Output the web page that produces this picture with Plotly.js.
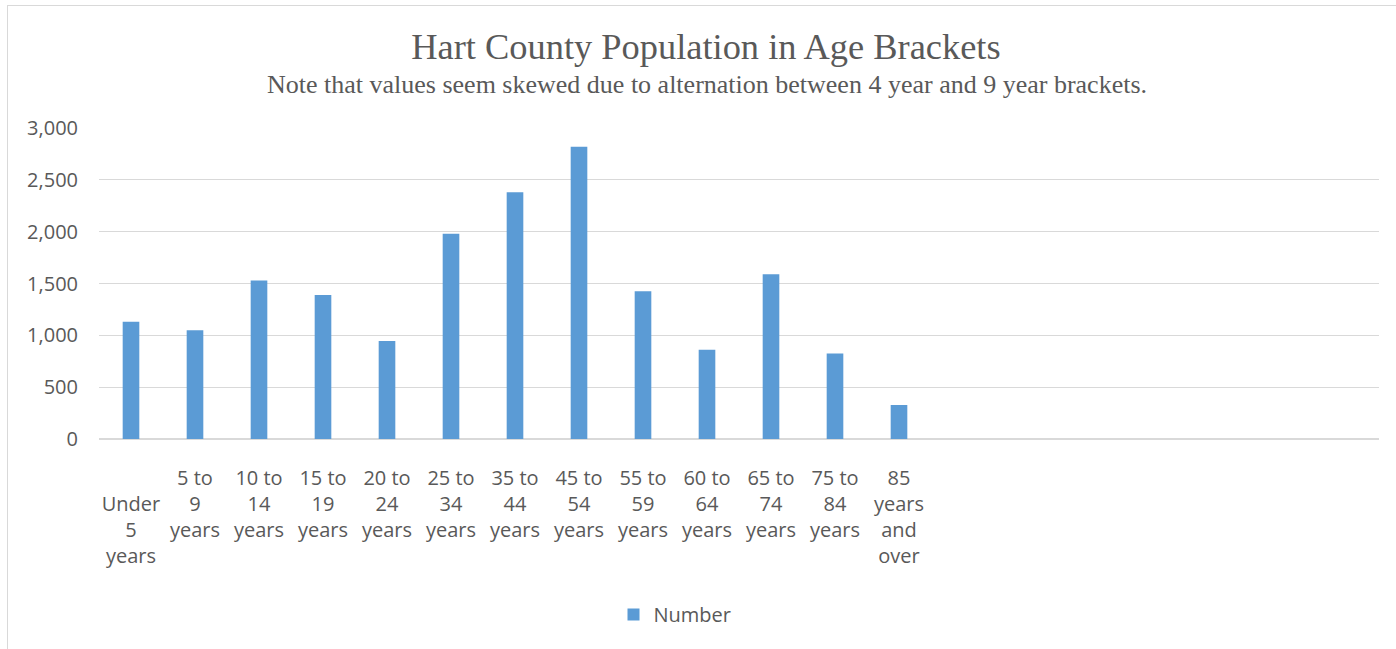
<!DOCTYPE html>
<html>
<head>
<meta charset="utf-8">
<script src="https://cdn.plot.ly/plotly-3.0.1.min.js"></script>
<style>
  html, body { margin: 0; padding: 0; background: #ffffff; }
  #chart { width: 1396px; height: 649px; }
  #frame {
    position: absolute; left: 7px; top: 5px; width: 1400px; height: 660px;
    border: 1px solid #d9d9d9; pointer-events: none;
  }
</style>
</head>
<body>
<div id="chart"></div>
<div id="frame"></div>
<script>
// Age brackets (tick labels wrapped the way they appear under each bar)
const categories = [
  "Under 5 years", "5 to 9 years", "10 to 14 years", "15 to 19 years",
  "20 to 24 years", "25 to 34 years", "35 to 44 years", "45 to 54 years",
  "55 to 59 years", "60 to 64 years", "65 to 74 years", "75 to 84 years",
  "85 years and over"
];
const tickLabels = [
  "<br>Under<br>5<br>years", "5 to<br>9<br>years", "10 to<br>14<br>years", "15 to<br>19<br>years",
  "20 to<br>24<br>years", "25 to<br>34<br>years", "35 to<br>44<br>years", "45 to<br>54<br>years",
  "55 to<br>59<br>years", "60 to<br>64<br>years", "65 to<br>74<br>years", "75 to<br>84<br>years",
  "85<br>years<br>and<br>over"
];
// Population count per bracket
const numbers = [1130, 1050, 1530, 1390, 945, 1980, 2380, 2820, 1425, 862, 1590, 825, 328];

const textColor = "#595959";
const gridColor = "#d9d9d9";

const trace = {
  type: "bar",
  name: "Number",
  x: categories,
  y: numbers,
  marker: { color: "#5b9bd5" },
  hoverinfo: "x+y"
};

const layout = {
  width: 1396,
  height: 649,
  margin: { l: 99, r: 17, t: 128, b: 210 },
  paper_bgcolor: "rgba(0,0,0,0)",
  plot_bgcolor: "#ffffff",
  bargap: 0.74,
  showlegend: true,
  title: {
    text: "Hart County Population in Age Brackets",
    font: { family: "Liberation Serif, serif", size: 36.4, color: textColor },
    x: 0.5057, xref: "container", xanchor: "center",
    y: 0.929, yref: "container", yanchor: "middle"
  },
  annotations: [{
    text: "Note that values seem skewed due to alternation between 4 year and 9 year brackets.",
    xref: "paper", yref: "paper", x: 0.4749, y: 1.1413,
    xanchor: "center", yanchor: "middle", showarrow: false,
    font: { family: "Liberation Serif, serif", size: 26, color: textColor }
  }],
  xaxis: {
    type: "category",
    categoryorder: "array",
    categoryarray: categories,
    tickvals: categories,
    ticktext: tickLabels,
    range: [-0.5, 19.5],
    showgrid: false,
    showline: false,
    zeroline: false,
    ticks: "",
    tickangle: 0,
    ticklabelstandoff: 25,
    tickfont: { family: "Open Sans, sans-serif", size: 20, color: textColor }
  },
  yaxis: {
    range: [0, 3000],
    dtick: 500,
    tick0: 0,
    tickformat: ",",
    showgrid: true,
    gridcolor: gridColor,
    gridwidth: 1,
    zeroline: true,
    zerolinecolor: gridColor,
    zerolinewidth: 1.5,
    showline: false,
    ticks: "",
    ticklabelstandoff: 20,
    tickfont: { family: "Open Sans, sans-serif", size: 20, color: textColor }
  },
  legend: {
    orientation: "h",
    x: 0.4500, xanchor: "center",
    y: -0.5644, yanchor: "middle",
    font: { family: "Open Sans, sans-serif", size: 20, color: textColor },
    itemwidth: 30
  }
};

Plotly.newPlot("chart", [trace], layout, { displayModeBar: false, staticPlot: true });
</script>
</body>
</html>
